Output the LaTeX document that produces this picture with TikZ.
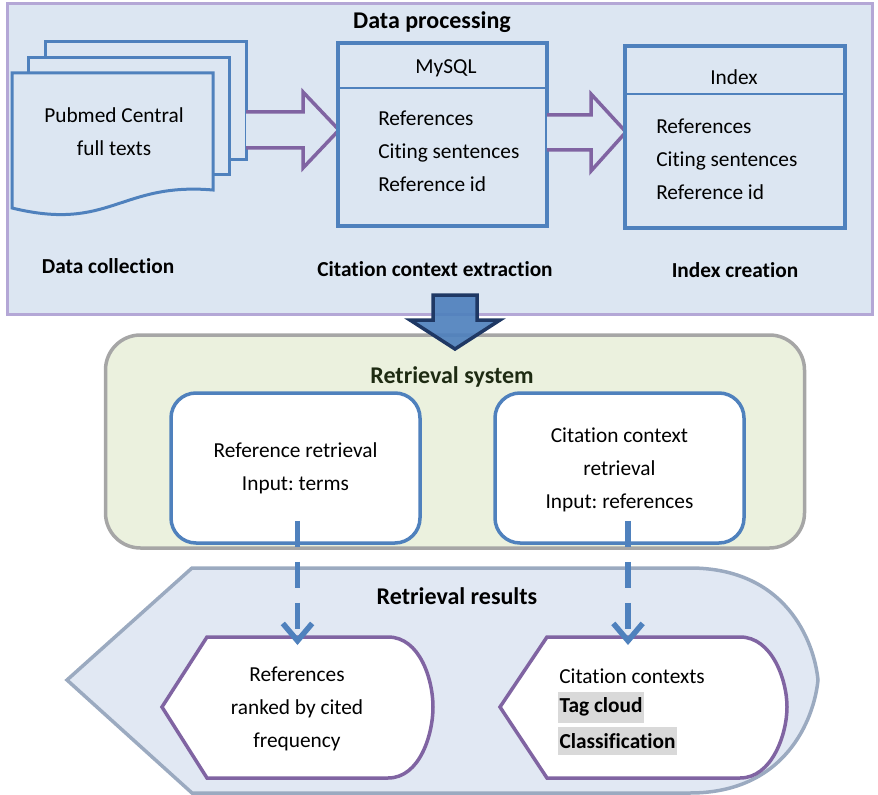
\documentclass[tikz,border=0pt]{standalone}
\usepackage{fontspec}
\setmainfont{Carlito}[Ligatures=NoCommon]
\usetikzlibrary{arrows.meta,positioning,calc}
\frenchspacing

\definecolor{procfill}{HTML}{DCE6F2}
\definecolor{procline}{HTML}{B4A7D6}
\definecolor{docblue}{HTML}{4F81BD}
\definecolor{arrowpurple}{HTML}{8064A2}
\definecolor{sysfill}{HTML}{EBF1DE}
\definecolor{sysline}{HTML}{A6A6A6}
\definecolor{sysfont}{HTML}{1E2B12}
\definecolor{resfill}{HTML}{E1E8F3}
\definecolor{resline}{HTML}{9BAAC0}
\definecolor{navy}{HTML}{1F3864}
\definecolor{hlgray}{HTML}{D9D9D9}

\newcommand{\pxu}{0.75pt}

\tikzset{
  txt/.style={font=\fontsize{16}{24.75}\selectfont, inner sep=0pt},
  lbl/.style={font=\fontsize{16}{20}\selectfont\bfseries, inner sep=0pt},
  ttl/.style={font=\fontsize{18}{22}\selectfont\bfseries, inner sep=0pt},
  doc/.style={draw=docblue, line width=3*\pxu, fill=procfill},
  dbbox/.style={draw=docblue, line width=3.5*\pxu, fill=procfill, inner sep=0pt},
  divider/.style={draw=docblue, line width=1.5*\pxu},
  hollow/.style={draw=arrowpurple, line width=3.5*\pxu, fill=procfill, line join=miter},
  sysbox/.style={draw=sysline, line width=3.5*\pxu, fill=sysfill, rounded corners=35*\pxu, inner sep=0pt},
  retbox/.style={draw=docblue, line width=3.5*\pxu, fill=white, rounded corners=25*\pxu, inner sep=0pt,
    minimum width=249*\pxu, minimum height=150*\pxu},
  resshape/.style={draw=resline, line width=3.5*\pxu, fill=resfill},
  hex/.style={draw=arrowpurple, line width=3.5*\pxu, fill=white},
  dasharrow/.style={draw=docblue, line width=5.5*\pxu, dash pattern=on 19.5pt off 11.25pt,
    -{Straight Barb[length=13pt, width=22pt]}},
  hl/.style={fill=hlgray, inner xsep=1pt, inner ysep=0pt}
}

\begin{document}
\begin{tikzpicture}[x=\pxu,y=-\pxu]
  \useasboundingbox (0,0) rectangle (878,795);

  %% data processing frame
  \draw[procline, line width=3*\pxu, fill=procfill] (7,4) rectangle (872,314);
  \node[ttl] (dproc) at (432,22) {Data processing};

  %% document stack
  \draw[doc] (45,42) rectangle (246,160);
  \draw[doc] (28,58) rectangle (229,175);
  \draw[doc] (12,73) -- (213,73) -- (213,190) .. controls (120,182) and (110,232) .. (12,208) -- cycle;
  \node[txt, align=center] (pmc) at (114,132) {Pubmed Central\\full texts};
  \node[lbl] (dcoll) at (108,266) {Data collection};

  %% arrow to mysql
  \draw[hollow] (246,112) -- (303,112) -- (303,92) -- (339,130) -- (303,168) -- (303,148) -- (246,148);

  %% mysql table
  \node[dbbox, minimum width=209*\pxu, minimum height=183*\pxu] (mysql) at (442.5,134.5) {};
  \draw[divider] (mysql.west |- 0,88) -- (mysql.east |- 0,88);
  \node[txt] (mysqlhd) at (446,68) {MySQL};
  \node[txt, align=left, anchor=west] (mysqlrows) at (378,151) {References\\Citing sentences\\Reference id};
  \node[lbl] (cce) at (435,269) {Citation context extraction};

  %% arrow to index
  \draw[hollow] (547,115) -- (591,115) -- (591,94) -- (626,132) -- (591,171) -- (591,150) -- (547,150);

  %% index table
  \node[dbbox, minimum width=220*\pxu, minimum height=182*\pxu] (idx) at (735,137) {};
  \draw[divider] (idx.west |- 0,94) -- (idx.east |- 0,94);
  \node[txt] (idxhd) at (734,77) {Index};
  \node[txt, align=left, anchor=west] (idxrows) at (656,159) {References\\Citing sentences\\Reference id};
  \node[lbl] (icre) at (735,270) {Index creation};

  %% retrieval system
  \node[sysbox, minimum width=699*\pxu, minimum height=213*\pxu] (sys) at (455,441.5) {};
  \node[ttl, text=sysfont] (systtl) at (452,377) {Retrieval system};
  \node[retbox] (refret) at (295.5,468) {};
  \node[retbox] (ctxret) at (619.5,468) {};
  \node[txt, align=center] (refrettxt) at (refret) {Reference retrieval\\Input: terms};
  \node[txt, align=center] (ctxrettxt) at ($(ctxret)+(0,2)$) {Citation context\\retrieval\\Input: references};

  %% big arrow down
  \draw[navy, line width=3.5*\pxu, fill=docblue, fill opacity=0.92, line join=miter]
    (433,295) -- (477,295) -- (477,320) -- (500,320) -- (455,349) -- (410,320) -- (433,320) -- cycle;

  %% retrieval results
  \draw[resshape] (192,568) -- (690,568) .. controls (785,568) and (814,640) .. (818,680)
    .. controls (814,720) and (785,793) .. (690,793) -- (192,793) -- (67,680) -- cycle;
  \node[ttl] (rres) at (457,596) {Retrieval results};

  \draw[hex] (162,707) -- (207,637) -- (388,637) .. controls (420,637) and (433,680) .. (433,707)
    .. controls (433,734) and (420,778) .. (388,778) -- (207,778) -- cycle;
  \node[txt, align=center] (ranked) at (297,709) {References\\ranked by cited\\frequency};

  \draw[hex] (500,707) -- (547,637) -- (740,637) .. controls (772,637) and (787,680) .. (787,707)
    .. controls (787,734) and (772,778) .. (740,778) -- (547,778) -- cycle;
  \node[txt, anchor=west] (cctx) at (559,676) {Citation contexts};
  \node[lbl, hl, anchor=west, minimum height=31*\pxu] (tagc) at (558,707) {Tag cloud};
  \node[lbl, hl, anchor=west, minimum height=28*\pxu] (clsf) at (558,741) {Classification};

  %% dashed connectors
  \coordinate (rankin) at (297.5,645);
  \coordinate (ctxin) at (628,645);
  \draw[dasharrow] ($(refret.south)+(2,-24)$) -- (rankin);
  \draw[dasharrow] ($(ctxret.south)+(8.5,-24)$) -- (ctxin);
\end{tikzpicture}
\end{document}
